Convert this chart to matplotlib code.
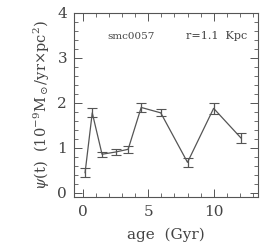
import matplotlib
matplotlib.use("Agg")
import matplotlib.pyplot as plt
from matplotlib.ticker import MultipleLocator

age = [0.15, 0.7, 1.45, 2.5, 3.45, 4.45, 5.95, 8.0, 10.0, 12.1]
sfr = [0.45, 1.78, 0.86, 0.91, 0.97, 1.9, 1.78, 0.68, 1.88, 1.22]
err = [0.1, 0.1, 0.06, 0.07, 0.08, 0.09, 0.08, 0.1, 0.12, 0.12]

plt.rcParams['font.family'] = ['DejaVu Serif']
plt.rcParams['mathtext.fontset'] = 'dejavuserif'
col = '#555555'

fig = plt.figure(figsize=(2.73, 2.45), dpi=100)
ax = fig.add_axes([0.271, 0.196, 0.674, 0.751])
ax.errorbar(age, sfr, yerr=err, color=col, lw=0.9, capsize=3.5, elinewidth=0.9, capthick=0.8)
ax.set_xlim(-0.7, 13.4)
ax.set_ylim(-0.09, 4.0)
ax.xaxis.set_major_locator(MultipleLocator(5))
ax.xaxis.set_minor_locator(MultipleLocator(1))
ax.yaxis.set_major_locator(MultipleLocator(1))
ax.yaxis.set_minor_locator(MultipleLocator(0.2))
ax.tick_params(which='both', direction='in', top=True, right=True, colors=col, labelcolor='#444444', labelsize=11)
ax.tick_params(axis='x', pad=6)
ax.tick_params(axis='y', pad=5)
ax.tick_params(which='major', length=6, width=0.7)
ax.tick_params(which='minor', length=3, width=0.6)
for s in ax.spines.values():
    s.set_color(col)
    s.set_linewidth(0.8)
ax.set_xlabel('age  (Gyr)', fontsize=11, color='#444444', labelpad=6)
ax.set_ylabel(r'$\psi$(t)  (10$^{-9}$M$_\odot$/yr$\times$pc$^2$)', fontsize=10.5, color='#444444', labelpad=4)
ax.text(0.18, 0.86, 'smc0057', transform=ax.transAxes, fontsize=7.5, color='#444444')
ax.text(0.61, 0.86, 'r=1.1  Kpc', transform=ax.transAxes, fontsize=8, color='#444444')
fig.savefig('out.png', dpi=100)
